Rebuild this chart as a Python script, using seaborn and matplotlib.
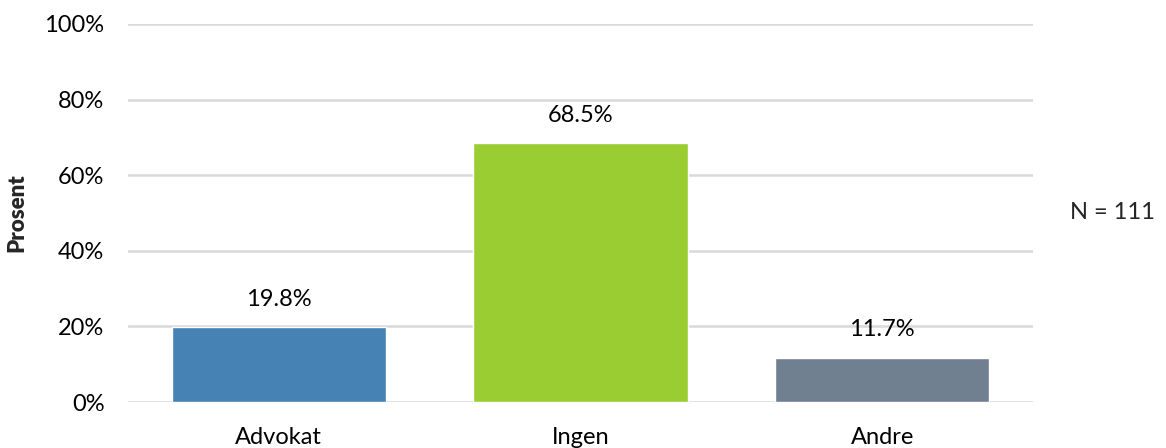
import numpy as np
import pandas as pd
import matplotlib
matplotlib.use('Agg')
import matplotlib.pyplot as plt
import seaborn as sns
from matplotlib.ticker import PercentFormatter

categories = ['Advokat', 'Ingen', 'Andre']
values = [19.8, 68.5, 11.7]
colors = ['#4682B4', '#9ACD32', '#708090']
n_text = 'N = 111'

df = pd.DataFrame({'kategori': categories, 'prosent': values})

sns.set_style('white')
plt.rcParams['font.family'] = ['Lato', 'DejaVu Sans']

fig = plt.figure(figsize=(11.66, 4.48), dpi=100)
ax = fig.add_axes([128/1166, 46/448, 905/1166, 378/448])

sns.barplot(data=df, x='kategori', y='prosent', hue='kategori',
            palette=colors, width=0.71, saturation=1, legend=False, ax=ax)

# value labels above the bars
for i, v in enumerate(values):
    ax.annotate(f'{v:.1f}%', (i, v), xytext=(0, 20), textcoords='offset points',
                ha='center', va='center', fontsize=17, color='#000000')

ax.set_ylim(0, 100)
ax.set_xlim(-0.5, 2.5)
ax.set_yticks(np.arange(0, 101, 20))
ax.yaxis.set_major_formatter(PercentFormatter(decimals=0))
ax.grid(axis='y', color='#D9D9D9', lw=1.8)
ax.set_axisbelow(True)
for s in ax.spines.values():
    s.set_visible(False)
ax.tick_params(axis='both', length=0, labelsize=17, colors='#000000')
ax.tick_params(axis='y', pad=17)
ax.tick_params(axis='x', pad=18)
ax.set_xlabel('')
ax.set_ylabel('Prosent', fontsize=16, fontweight='heavy', labelpad=12)

fig.text(1070/1166, 1 - 212/448, n_text, fontsize=17, va='center', ha='left')

fig.savefig('out.png', dpi=100)
